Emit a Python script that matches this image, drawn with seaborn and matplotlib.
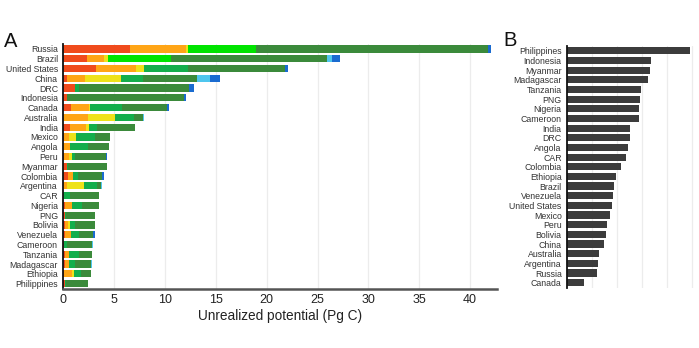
import numpy as np
import pandas as pd
import matplotlib
matplotlib.use("Agg")
import matplotlib.pyplot as plt
import seaborn as sns

# ---- Panel A: unrealized potential by cost band (Pg C) ----
countries_a = ["Russia", "Brazil", "United States", "China", "DRC", "Indonesia",
               "Canada", "Australia", "India", "Mexico", "Angola", "Peru",
               "Myanmar", "Colombia", "Argentina", "CAR", "Nigeria", "PNG",
               "Bolivia", "Venezuela", "Cameroon", "Tanzania", "Madagascar",
               "Ethiopia", "Philippines"]

red_band    = [6.50, 2.36, 3.22, 0.39, 1.12, 0.36, 0.69, 0.00, 0.63, 0.05, 0.00, 0.05,
               0.33, 0.49, 0.00, 0.00, 0.10, 0.10, 0.15, 0.10, 0.05, 0.10, 0.10, 0.05, 0.10]
orange_band = [5.60, 1.67, 3.96, 1.71, 0.00, 0.00, 1.84, 2.40, 1.60, 0.50, 0.66, 0.50,
               0.00, 0.49, 0.39, 0.00, 0.78, 0.00, 0.28, 0.66, 0.00, 0.43, 0.46, 0.80, 0.00]
yellow_band = [0.10, 0.30, 0.76, 3.57, 0.00, 0.00, 0.12, 2.68, 0.27, 0.65, 0.00, 0.32,
               0.00, 0.00, 1.58, 0.00, 0.00, 0.00, 0.23, 0.00, 0.00, 0.00, 0.00, 0.17, 0.00]
lime_band   = [6.75, 6.29, 0.00, 0.00, 0.00, 0.00, 0.00, 0.00, 0.00, 0.00, 0.00, 0.00,
               0.00, 0.00, 0.00, 0.00, 0.00, 0.00, 0.00, 0.00, 0.00, 0.00, 0.00, 0.00, 0.00]
green_band  = [0.00, 0.00, 4.26, 2.20, 0.45, 0.00, 3.15, 1.84, 0.78, 1.94, 1.77, 0.30,
               0.10, 0.40, 1.31, 0.63, 0.96, 0.15, 0.52, 0.78, 0.30, 1.01, 0.62, 0.72, 0.10]
forest_band = [22.85, 15.34, 9.60, 5.31, 10.79, 11.54, 4.40, 0.95, 3.80, 1.47, 2.06, 3.02,
               3.83, 2.45, 0.43, 2.91, 1.67, 2.87, 1.94, 1.41, 2.50, 1.25, 1.57, 0.98, 2.23]
sky_band    = [0.00, 0.44, 0.00, 1.25, 0.00, 0.00, 0.00, 0.08, 0.00, 0.00, 0.00, 0.00,
               0.05, 0.00, 0.12, 0.00, 0.00, 0.00, 0.00, 0.00, 0.05, 0.05, 0.05, 0.00, 0.00]
blue_band   = [0.25, 0.80, 0.27, 0.98, 0.52, 0.13, 0.16, 0.00, 0.00, 0.00, 0.00, 0.13,
               0.00, 0.20, 0.00, 0.00, 0.00, 0.00, 0.00, 0.14, 0.00, 0.00, 0.00, 0.00, 0.00]

bands = [red_band, orange_band, yellow_band, lime_band, green_band,
         forest_band, sky_band, blue_band]
band_colors = ["#f04b1c", "#ffa516", "#eee21a", "#00e400", "#13ae4c",
               "#3b8a3b", "#4fc6ee", "#1a6bd0"]
xticks_a = [0, 5, 10, 15, 20, 25, 30, 35, 40]

# ---- Panel B: ranking ----
countries_b = ["Philippines", "Indonesia", "Myanmar", "Madagascar", "Tanzania", "PNG",
               "Nigeria", "Cameroon", "India", "DRC", "Angola", "CAR", "Colombia",
               "Ethiopia", "Brazil", "Venezuela", "United States", "Mexico", "Peru",
               "Bolivia", "China", "Australia", "Argentina", "Russia", "Canada"]
values_b = [4.91, 3.35, 3.32, 3.24, 2.96, 2.91, 2.87, 2.86, 2.52, 2.49, 2.42, 2.35,
            2.16, 1.94, 1.88, 1.83, 1.79, 1.71, 1.60, 1.56, 1.48, 1.27, 1.24, 1.20, 0.68]

sns.set_theme(style="white")
plt.rcParams["font.family"] = ["Liberation Sans", "DejaVu Sans"]

fig = plt.figure(figsize=(6.99, 3.48), dpi=100)
W, H = 699, 348
ax_a = fig.add_axes([63.5 / W, 1 - 288.5 / H, (497 - 63.5) / W, (288.5 - 44) / H])
ax_b = fig.add_axes([567.3 / W, 1 - 287.5 / H, (696 - 567.3) / W, (287.5 - 46) / H])

# Stacked bars: draw cumulative totals from the outermost band inwards
cum = np.cumsum(np.array(bands), axis=0)
for k in range(len(bands) - 1, -1, -1):
    df = pd.DataFrame({"country": countries_a, "value": cum[k]})
    sns.barplot(data=df, x="value", y="country", order=countries_a, color=band_colors[k],
                saturation=1, width=0.74, linewidth=0, ax=ax_a)

ax_a.set_xlim(0, 42.65)
ax_a.set_ylim(len(countries_a) - 0.5, -0.5)
ax_a.set_xticks(xticks_a)
ax_a.set_xticklabels([str(t) for t in xticks_a], fontsize=9, color="#222222")
for t in xticks_a[1:]:
    ax_a.axvline(t, color="#ececec", lw=0.9, zorder=0)
ax_a.set_axisbelow(True)
ax_a.set_xlabel("Unrealized potential (Pg C)", fontsize=9.8, color="#222222", labelpad=2)
ax_a.set_ylabel("")
ax_a.tick_params(axis="y", length=0, pad=4, labelsize=6.3, labelcolor="#333333")
ax_a.tick_params(axis="x", length=2.5, width=0.8, color="#444444", pad=1.5)
for s in ["top", "right"]:
    ax_a.spines[s].set_visible(False)
ax_a.spines["left"].set_color("#111111")
ax_a.spines["left"].set_linewidth(1.3)
ax_a.spines["bottom"].set_color("#555555")
ax_a.spines["bottom"].set_linewidth(1.8)

df_b = pd.DataFrame({"country": countries_b, "value": values_b})
sns.barplot(data=df_b, x="value", y="country", order=countries_b, color="#3c3c3c",
            saturation=1, width=0.74, linewidth=0, ax=ax_b)
ax_b.set_xlim(0, 5.15)
ax_b.set_ylim(len(countries_b) - 0.5, -0.5)
for t in [1, 2, 3, 4, 5]:
    ax_b.axvline(t, color="#ececec", lw=0.9, zorder=0)
ax_b.set_axisbelow(True)
ax_b.set_xticks([])
ax_b.set_xlabel("")
ax_b.set_ylabel("")
ax_b.tick_params(axis="y", length=0, pad=4, labelsize=6.3, labelcolor="#333333")
for s in ["top", "right", "bottom"]:
    ax_b.spines[s].set_visible(False)
ax_b.spines["left"].set_color("#111111")
ax_b.spines["left"].set_linewidth(1.3)

fig.text(4 / W, 1 - 47 / H, "A", fontsize=14.5, color="#111111", ha="left", va="baseline")
fig.text(503 / W, 1 - 46 / H, "B", fontsize=14.5, color="#111111", ha="left", va="baseline")

fig.savefig("out.png", dpi=100, facecolor="white")
